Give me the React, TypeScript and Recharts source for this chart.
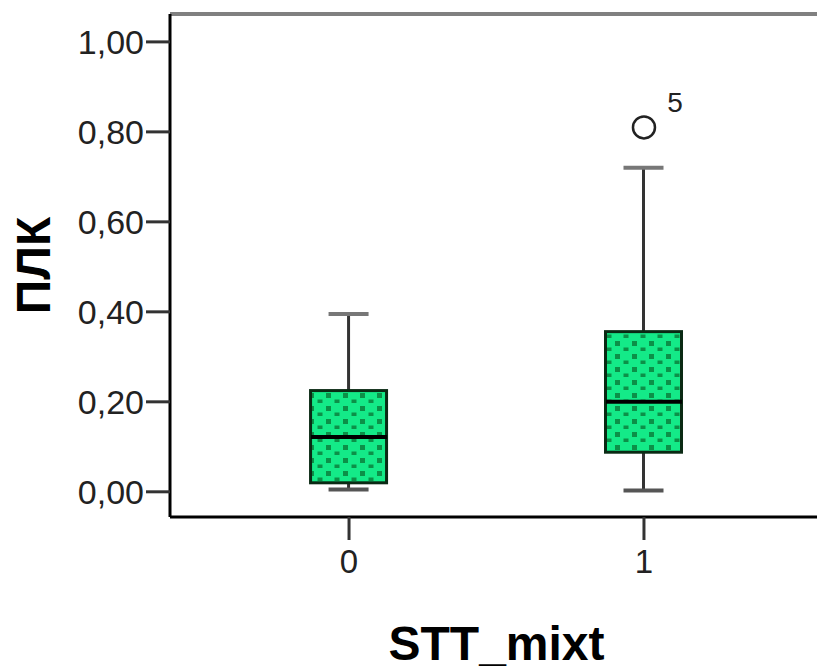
import { Bar, ComposedChart, Scatter, XAxis, YAxis } from "recharts";

const categories = ["0", "1"];
const whiskerLow = [0.005, 0.003];
const quartile1 = [0.02, 0.088];
const medians = [0.122, 0.2];
const quartile3 = [0.225, 0.356];
const whiskerHigh = [0.395, 0.72];
const outlierGroups = [1];
const outlierValues = [0.81];
const outlierLabels = ["5"];
const yTicks = [0, 0.2, 0.4, 0.6, 0.8, 1.0];

const font = "'Liberation Sans', Arial, sans-serif";
const BOX_W = 76;
const CAP_W = 40;

const rows = categories.map((name, i) => ({
  x: i,
  name,
  whisker: [whiskerLow[i], whiskerHigh[i]],
  box: [quartile1[i], quartile3[i]],
  median: medians[i],
}));

const outlierRows = outlierGroups.map((g, i) => ({
  x: g,
  value: outlierValues[i],
  label: outlierLabels[i],
}));

const WhiskerShape = (props: any) => {
  const { x, y, width, height } = props;
  const top = Math.min(y, y + height);
  const bottom = Math.max(y, y + height);
  const cx = x + width / 2;
  return (
    <g>
      <line x1={cx} x2={cx} y1={top} y2={bottom} stroke="#333" strokeWidth={3} />
      <line x1={x} x2={x + width} y1={top} y2={top} stroke="#777" strokeWidth={4} />
      <line x1={x} x2={x + width} y1={bottom} y2={bottom} stroke="#555" strokeWidth={4} />
    </g>
  );
};

const BoxShape = (props: any) => {
  const { x, y, width, height } = props;
  const top = Math.min(y, y + height);
  const h = Math.abs(height);
  return (
    <g>
      <defs>
        <pattern id="dots" width={17} height={13} patternUnits="userSpaceOnUse">
          <rect width={17} height={13} fill="#14ea88" />
          <rect x={3} y={3} width={5} height={5} fill="#0c9048" />
          <rect x={11.5} y={9.5} width={5} height={5} fill="#0c9048" />
        </pattern>
      </defs>
      <rect x={x} y={top} width={width} height={h} fill="url(#dots)" stroke="#0a2a14" strokeWidth={3} />
    </g>
  );
};

const MedianShape = (props: any) => {
  const { cx, cy } = props;
  return <line x1={cx - BOX_W / 2} x2={cx + BOX_W / 2} y1={cy} y2={cy} stroke="#000" strokeWidth={4} />;
};

const OutlierShape = (props: any) => {
  const { cx, cy, payload } = props;
  return (
    <g>
      <circle cx={cx} cy={cy} r={11} fill="none" stroke="#222" strokeWidth={2.5} />
      <text x={cx + 31} y={cy - 25} fontFamily={font} fontSize={28} fill="#222" textAnchor="middle" dominantBaseline="central">
        {payload.label}
      </text>
    </g>
  );
};

const YLabel = (props: any) => {
  const vb = props.viewBox;
  const cx = vb.x + 33;
  const cy = vb.y + vb.height / 2;
  return (
    <text x={cx} y={cy} transform={`rotate(-90 ${cx} ${cy})`} textAnchor="middle" dominantBaseline="central" fontFamily={font} fontWeight="bold" fontSize={48} fill="#000">
      ПЛК
    </text>
  );
};

const XLabel = (props: any) => {
  const vb = props.viewBox;
  return (
    <text x={vb.x + vb.width / 2} y={vb.y + 126} textAnchor="middle" dominantBaseline="central" fontFamily={font} fontWeight="bold" fontSize={48} fill="#000">
      STT_mixt
    </text>
  );
};

const xDomain = [-0.607, 1.607];

export default function App() {
  return (
    <div style={{ position: "absolute", left: 0, top: 0, width: 817, height: 672, overflow: "hidden", background: "#fff" }}>
      <ComposedChart width={830} height={672} data={rows} margin={{ top: 13, right: 7, left: 0, bottom: 95 }}>
        <XAxis
          xAxisId="main"
          dataKey="x"
          type="number"
          domain={xDomain}
          allowDataOverflow
          ticks={[0, 1]}
          tickFormatter={(v: number) => categories[v]}
          tickSize={23}
          tickMargin={10}
          tick={{ fontSize: 33, fontFamily: font, fill: "#222" }}
          tickLine={{ stroke: "#333", strokeWidth: 3 }}
          axisLine={{ stroke: "#000", strokeWidth: 3 }}
          height={60}
          label={<XLabel />}
        />
        <XAxis
          xAxisId="top"
          dataKey="x"
          type="number"
          orientation="top"
          domain={xDomain}
          allowDataOverflow
          ticks={[0, 1]}
          tick={false}
          tickLine={false}
          axisLine={{ stroke: "#808080", strokeWidth: 4 }}
          height={1}
        />
        <YAxis
          domain={[-0.056, 1.062]}
          allowDataOverflow
          ticks={yTicks}
          tickFormatter={(v: number) => v.toFixed(2).replace(".", ",")}
          tickSize={24}
          tickMargin={2}
          tick={{ fontSize: 34, fontFamily: font, fill: "#222" }}
          tickLine={{ stroke: "#333", strokeWidth: 3 }}
          axisLine={{ stroke: "#000", strokeWidth: 3 }}
          width={170}
          label={<YLabel />}
        />
        <Bar xAxisId="top" dataKey="whisker" barSize={CAP_W} shape={WhiskerShape} isAnimationActive={false} />
        <Bar xAxisId="main" dataKey="box" barSize={BOX_W} shape={BoxShape} isAnimationActive={false} />
        <Scatter xAxisId="main" dataKey="median" shape={MedianShape} isAnimationActive={false} />
        <Scatter xAxisId="main" data={outlierRows} dataKey="value" shape={OutlierShape} isAnimationActive={false} />
      </ComposedChart>
    </div>
  );
}
